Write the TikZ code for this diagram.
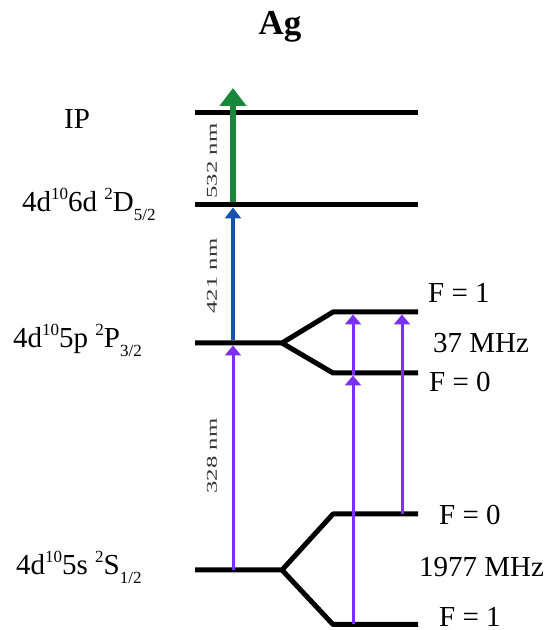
\documentclass[tikz,border=0pt]{standalone}
\usepackage{fontspec}
\setmainfont{Liberation Serif}
\usepackage{tikz}
\usetikzlibrary{arrows.meta, positioning}
\newcommand{\up}[1]{\raisebox{0.42em}{\fontsize{17}{19}\selectfont #1}}
\newcommand{\dn}[1]{\raisebox{-0.3em}{\fontsize{17}{19}\selectfont #1}}

\begin{document}
\begin{tikzpicture}[
        x=1pt, y=1pt,
        level/.style={line width=5pt, black, line join=round},
        uvbeam/.style={line width=3pt, color={rgb,255:red,123;green,47;blue,247}, -{Triangle[length=10pt, width=16pt]}},
        bluebeam/.style={line width=3.5pt, color={rgb,255:red,22;green,80;blue,176}, -{Triangle[length=11pt, width=16pt]}},
        greenbeam/.style={line width=5.5pt, color={rgb,255:red,24;green,135;blue,60}, -{Triangle[length=18pt, width=26pt]}},
        statelabel/.style={font=\fontsize{29}{32}\selectfont, text=black, inner sep=0pt, anchor=base west},
        flabel/.style={font=\fontsize{29}{32}\selectfont, text=black, inner sep=0pt, anchor=base west},
        wavelabel/.style={font=\fontsize{15}{17}\selectfont, text=black!80, rotate=90, inner sep=0pt}
    ]
        \useasboundingbox (0,0) rectangle (559,630);

        % Title
        \node[font=\fontsize{35}{38}\selectfont\bfseries, inner sep=0pt, anchor=base] (title) at (280,595) {Ag};

        % IP
        \coordinate (ipL) at (195,517);
        \coordinate (ipR) at (418,517);
        \draw[level] (ipL) -- (ipR);
        \node[statelabel] (ipname) at (64,501) {IP};

        % 6d
        \coordinate (dL) at (195,425);
        \coordinate (dR) at (418,425);
        \draw[level] (dL) -- (dR);
        \node[statelabel] (dname) at (22,418) {4d\up{10}6d \up{2}D\dn{5/2}};

        % 5p, hyperfine split
        \coordinate (pL) at (195,287);
        \coordinate (pK) at (282,287);
        \coordinate (pUa) at (333,318);
        \coordinate (pUb) at (418,318);
        \coordinate (pLa) at (333,257);
        \coordinate (pLb) at (418,257);
        \draw[level] (pL) -- (pK) -- (pUa) -- (pUb);
        \draw[level] (pK) -- (pLa) -- (pLb);
        \node[statelabel] (pname) at (13,282) {4d\up{10}5p \up{2}P\dn{3/2}};
        \node[flabel] (pF1) at (428,327) {F = 1};
        \node[flabel] (psplit) at (433,277) {37 MHz};
        \node[flabel] (pF0) at (429,238) {F = 0};

        % 5s, hyperfine split
        \coordinate (sL) at (195,60);
        \coordinate (sK) at (282,60);
        \coordinate (sUa) at (333,116);
        \coordinate (sUb) at (418,116);
        \coordinate (sLa) at (333,5.5);
        \coordinate (sLb) at (418,5.5);
        \draw[level] (sL) -- (sK) -- (sUa) -- (sUb);
        \draw[level] (sK) -- (sLa) -- (sLb);
        \node[statelabel] (sname) at (16,55) {4d\up{10}5s \up{2}S\dn{1/2}};
        \node[flabel] (sF0) at (439,105) {F = 0};
        \node[flabel] (ssplit) at (419,53) {1977 MHz};
        \node[flabel] (sF1) at (439,4) {F = 1};

        % Excitation steps
        \coordinate (a0) at (233,60);
        \coordinate (a1) at (233,284.5);
        \coordinate (a1t) at (233,289.5);
        \coordinate (a2) at (233,422.5);
        \coordinate (a2t) at (233,427.5);
        \coordinate (a3) at (233,542);
        \draw[uvbeam] (a0) -- (a1);
        \draw[bluebeam] (a1t) -- (a2);
        \draw[greenbeam] (a2t) -- (a3);
        \node[wavelabel] (w328) at (212,174) {\scalebox{1.65}[1]{328 nm}};
        \node[wavelabel] (w421) at (212,354) {\scalebox{1.65}[1]{421 nm}};
        \node[wavelabel] (w532) at (212,469) {\scalebox{1.65}[1]{532 nm}};

        % Hyperfine transitions
        \coordinate (h1) at (353,5.5);
        \coordinate (h2) at (353,254.5);
        \coordinate (h3) at (353,315.5);
        \coordinate (h4) at (402,116);
        \coordinate (h5) at (402,315.5);
        \draw[uvbeam] (h1) -- (h2);
        \draw[uvbeam] (h2) -- (h3);
        \draw[uvbeam] (h4) -- (h5);
    \end{tikzpicture}
\end{document}
